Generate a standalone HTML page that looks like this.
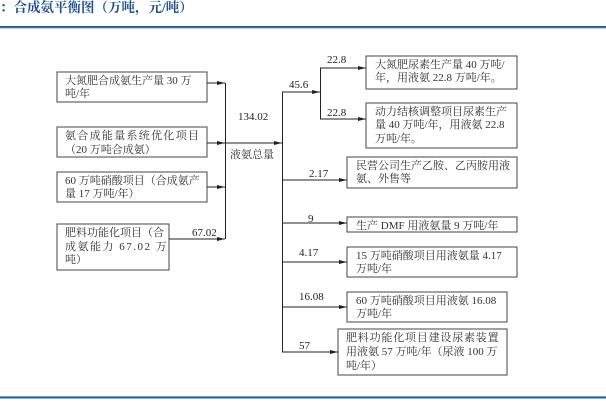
<!DOCTYPE html>
<html><head><meta charset="utf-8"><style>
html,body{margin:0;padding:0;background:#fff;}
svg{display:block;}
.t{font-family:"Liberation Serif","Noto Serif CJK SC",serif;font-size:11px;fill:#333;}
.n{font-family:"Liberation Serif",serif;font-size:11px;fill:#222;}
.h{font-family:"Liberation Serif","Noto Serif CJK SC",serif;font-size:13.5px;fill:#1f4f8f;font-weight:bold;}
</style></head><body>
<svg width="606" height="407" viewBox="0 0 606 407" xmlns="http://www.w3.org/2000/svg">
<defs><marker id="a" markerWidth="8" markerHeight="6" refX="8" refY="3" orient="auto" markerUnits="userSpaceOnUse"><path d="M0,1 L8,3 L0,5 Z" fill="#222"/></marker></defs>
<text class="h" x="0" y="12">：合成氨平衡图（万吨，元/吨）</text>
<rect x="0" y="26" width="606" height="1.5" fill="#1f4f8f"/>
<rect x="0" y="27.5" width="606" height="1" fill="#6fa0d0"/>
<rect x="0" y="396" width="606" height="1" fill="#6fa0d0"/>
<rect x="0" y="397" width="606" height="1.5" fill="#1f5fa8"/>
<g fill="none" stroke="#444" stroke-width="1">
<rect x="57" y="72" width="150" height="30"/>
<rect x="57" y="127" width="150" height="30"/>
<rect x="57" y="172" width="150" height="30"/>
<rect x="57" y="224" width="112" height="46"/>
<rect x="366" y="56" width="151" height="33"/>
<rect x="366" y="103" width="151" height="45"/>
<rect x="347" y="157" width="170" height="31"/>
<rect x="347" y="217" width="170" height="15"/>
<rect x="347" y="247" width="170" height="30"/>
<rect x="347" y="292" width="160" height="30"/>
<rect x="338" y="329" width="169" height="46"/>
</g>
<g stroke="#222" stroke-width="1" fill="none">
<line x1="207" y1="83" x2="225" y2="83" marker-end="url(#a)"/>
<line x1="207" y1="143" x2="225" y2="143" marker-end="url(#a)"/>
<line x1="207" y1="187" x2="225" y2="187" marker-end="url(#a)"/>
<line x1="169" y1="239" x2="225" y2="239" marker-end="url(#a)"/>
<line x1="225.5" y1="83" x2="225.5" y2="239"/>
<line x1="225" y1="143" x2="282" y2="143" marker-end="url(#a)"/>
<line x1="282.5" y1="92" x2="282.5" y2="352"/>
<line x1="282" y1="92" x2="320" y2="92" marker-end="url(#a)"/>
<line x1="320.5" y1="68" x2="320.5" y2="119"/>
<line x1="320" y1="68" x2="366" y2="68" marker-end="url(#a)"/>
<line x1="320" y1="119" x2="366" y2="119" marker-end="url(#a)"/>
<line x1="282" y1="180" x2="347" y2="180" marker-end="url(#a)"/>
<line x1="282" y1="223" x2="347" y2="223" marker-end="url(#a)"/>
<line x1="282" y1="262" x2="347" y2="262" marker-end="url(#a)"/>
<line x1="282" y1="307" x2="347" y2="307" marker-end="url(#a)"/>
<line x1="282" y1="352" x2="338" y2="352" marker-end="url(#a)"/>
</g>
<text class="t" x="65" y="84">大氮肥合成氨生产量 30 万</text>
<text class="t" x="65" y="97">吨/年</text>
<text class="t" x="65" y="139" letter-spacing="1.3">氨合成能量系统优化项目</text>
<text class="t" x="65" y="153">（20 万吨合成氨）</text>
<text class="t" x="65" y="184">60 万吨硝酸项目（合成氨产</text>
<text class="t" x="65" y="197">量 17 万吨/年）</text>
<text class="t" x="65" y="236">肥料功能化项目（合</text>
<text class="t" x="65" y="250" letter-spacing="1.5">成氨能力 67.02 万</text>
<text class="t" x="65" y="263">吨）</text>
<text class="n" x="192" y="236">67.02</text>
<text class="n" x="238" y="120">134.02</text>
<text class="t" x="230" y="158">液氨总量</text>
<text class="n" x="289" y="88">45.6</text>
<text class="n" x="327" y="63">22.8</text>
<text class="n" x="327" y="116">22.8</text>
<text class="n" x="309" y="177">2.17</text>
<text class="n" x="308" y="222">9</text>
<text class="n" x="299" y="256">4.17</text>
<text class="n" x="299" y="300">16.08</text>
<text class="n" x="299" y="349">57</text>
<text class="t" x="375" y="68">大氮肥尿素生产量 40 万吨/</text>
<text class="t" x="375" y="81">年，用液氨 22.8 万吨/年。</text>
<text class="t" x="375" y="115">动力结核调整项目尿素生产</text>
<text class="t" x="375" y="128">量 40 万吨/年，用液氨 22.8</text>
<text class="t" x="375" y="142">万吨/年。</text>
<text class="t" x="356" y="169">民营公司生产乙胺、乙丙胺用液</text>
<text class="t" x="356" y="182">氨、外售等</text>
<text class="t" x="356" y="229">生产 DMF 用液氨量 9 万吨/年</text>
<text class="t" x="356" y="259">15 万吨硝酸项目用液氨量 4.17</text>
<text class="t" x="356" y="272">万吨/年</text>
<text class="t" x="356" y="304">60 万吨硝酸项目用液氨 16.08</text>
<text class="t" x="356" y="317">万吨/年</text>
<text class="t" x="346" y="341" letter-spacing="0.8">肥料功能化项目建设尿素装置</text>
<text class="t" x="346" y="355">用液氨 57 万吨/年（尿液 100 万</text>
<text class="t" x="346" y="369">吨/年）</text>
</svg>
</body></html>
